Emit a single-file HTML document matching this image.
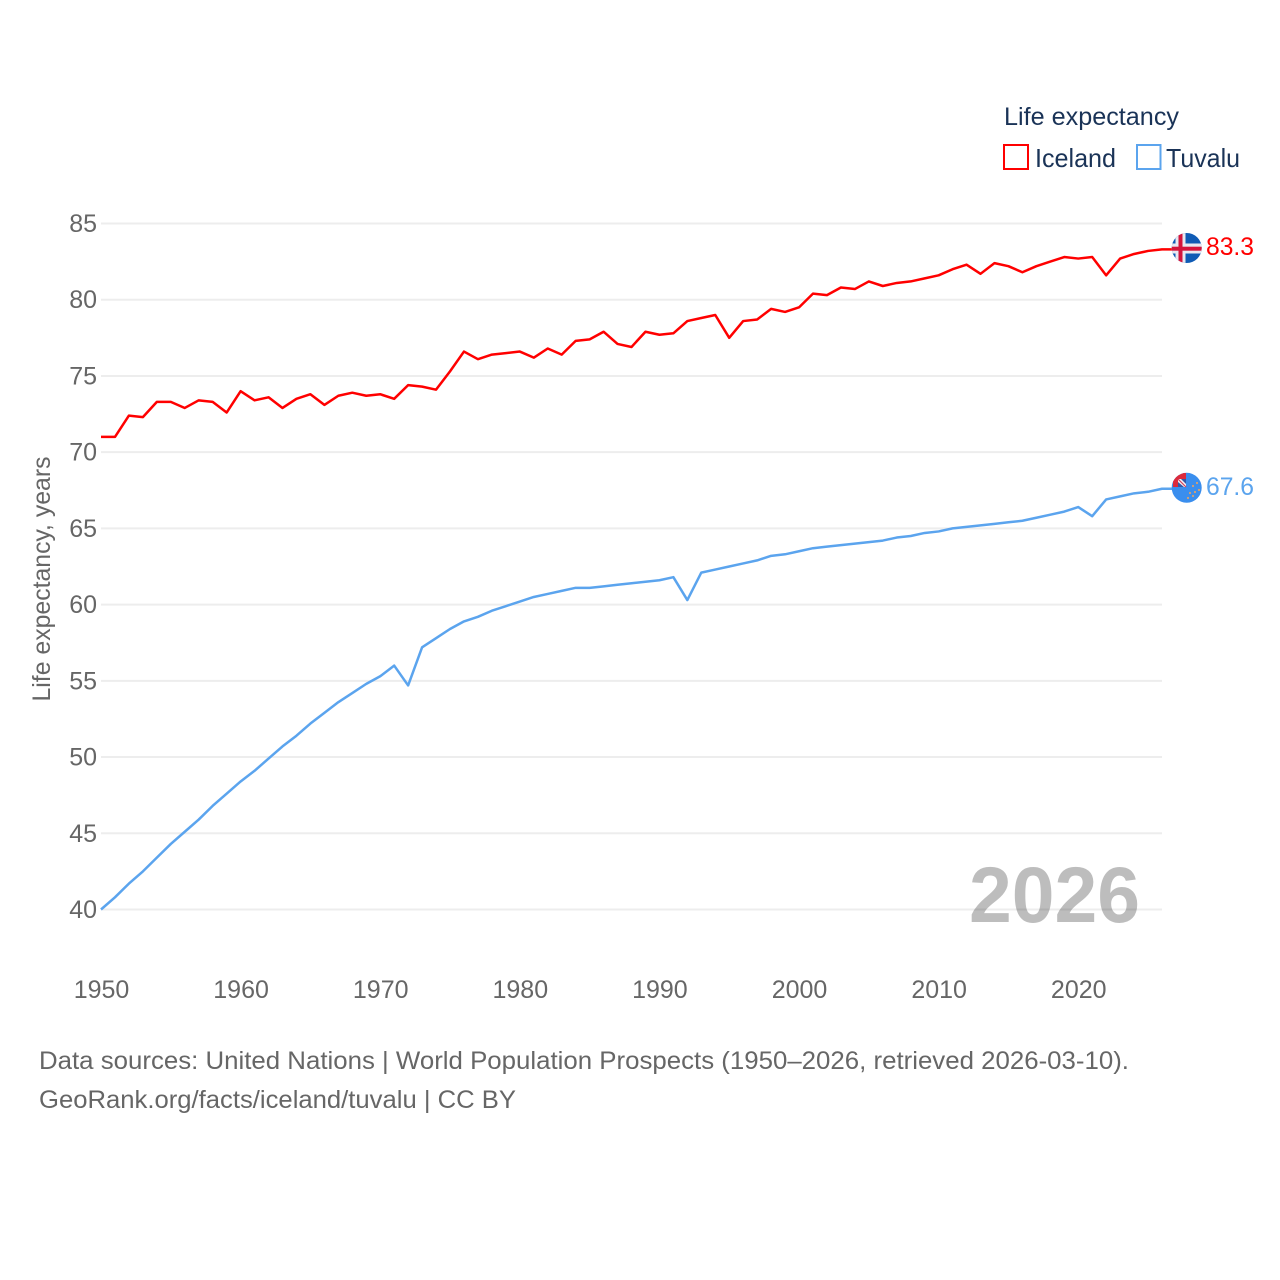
<!DOCTYPE html>
<html>
<head>
<meta charset="utf-8">
<title>Life expectancy: Iceland and Tuvalu</title>
<style>
  html, body { margin: 0; padding: 0; background: #fff; }
  body { width: 1280px; height: 1280px; overflow: hidden; }
  svg { display: block; font-family: "Liberation Sans", sans-serif; }
</style>
</head>
<body>
<svg id="chart" xmlns="http://www.w3.org/2000/svg" width="1280" height="1280" viewBox="0 0 1280 1280">
  <defs>
    <clipPath id="clip-iceland"><circle cx="1186.7" cy="248" r="15"></circle></clipPath>
    <clipPath id="clip-tuvalu"><circle cx="1186.7" cy="487.8" r="15"></circle></clipPath>
  </defs>
  <rect x="0" y="0" width="1280" height="1280" fill="#ffffff"></rect>
  <g id="grid"></g>
  <g id="y-axis"></g>
  <g id="x-axis"></g>
  <text transform="translate(50,579) rotate(-90)" text-anchor="middle" font-size="25" fill="#666666" textLength="245" lengthAdjust="spacingAndGlyphs">Life expectancy, years</text>
  <text x="969" y="922" font-size="79" font-weight="700" fill="#000000" fill-opacity="0.26" textLength="171" lengthAdjust="spacingAndGlyphs">2026</text>
  <g id="series"></g>

  <g clip-path="url(#clip-iceland)">
    <rect x="1171" y="233" width="31" height="30" fill="#0f5bb5"></rect>
    <rect x="1171" y="243.5" width="31" height="10" fill="#e8e8f0"></rect>
    <rect x="1175.5" y="233" width="10" height="30" fill="#e8e8f0"></rect>
    <rect x="1171" y="246.7" width="31" height="4" fill="#d4143c"></rect>
    <rect x="1178.5" y="233" width="4" height="30" fill="#d4143c"></rect>
  </g>
  <g clip-path="url(#clip-tuvalu)">
    <rect x="1171" y="472" width="31" height="31" fill="#3a8eee"></rect>
    <rect x="1173" y="473" width="13" height="14" fill="#dc2a3c"></rect>
    <rect x="1178" y="479" width="8" height="8" fill="#f2f2f6"></rect>
    <polygon points="1178,482 1178,487 1184,487" fill="#3358a8"></polygon>
    <polygon points="1181,479 1186,479 1186,484" fill="#3358a8"></polygon>
    <line x1="1178" y1="479" x2="1186" y2="487" stroke="#d4405a" stroke-width="1.2"></line>
    <g fill="#d8a070">
      <circle cx="1197" cy="483" r="1.1"></circle>
      <circle cx="1193" cy="486" r="1.1"></circle>
      <circle cx="1199" cy="490" r="1.1"></circle>
      <circle cx="1195" cy="492" r="1.1"></circle>
      <circle cx="1190" cy="493" r="1.1"></circle>
      <circle cx="1193" cy="496" r="1.1"></circle>
      <circle cx="1188" cy="498" r="1.1"></circle>
    </g>
  </g>

  <text x="1206" y="255" font-size="25" fill="#ff0000" textLength="48" lengthAdjust="spacingAndGlyphs">83.3</text>
  <text x="1206" y="495" font-size="25" fill="#5ba4ee" textLength="48" lengthAdjust="spacingAndGlyphs">67.6</text>

  <g>
    <text x="1004" y="125" font-size="25" fill="#1a3357" textLength="175" lengthAdjust="spacingAndGlyphs">Life expectancy</text>
    <g>
      <rect x="1004" y="145" width="24" height="24" fill="#ffffff" stroke="#ff0000" stroke-width="2"></rect>
      <text x="1035" y="167" font-size="26" fill="#1a3357" textLength="81" lengthAdjust="spacingAndGlyphs">Iceland</text>
    </g>
    <g>
      <rect x="1137" y="145" width="23.5" height="24" fill="#ffffff" stroke="#5ba4ee" stroke-width="2"></rect>
      <text x="1166" y="167" font-size="26" fill="#1a3357" textLength="74" lengthAdjust="spacingAndGlyphs">Tuvalu</text>
    </g>
  </g>

  <text x="39" y="1069" font-size="25" fill="#666666" textLength="1090" lengthAdjust="spacingAndGlyphs">Data sources: United Nations | World Population Prospects (1950–2026, retrieved 2026-03-10).</text>
  <a><text x="39" y="1108" font-size="25" fill="#666666" textLength="477" lengthAdjust="spacingAndGlyphs">GeoRank.org/facts/iceland/tuvalu | CC BY</text></a>
</svg>
<script>
const yTicks = [40, 45, 50, 55, 60, 65, 70, 75, 80, 85];
const xTicks = [1950, 1960, 1970, 1980, 1990, 2000, 2010, 2020];
const years = [1950,1951,1952,1953,1954,1955,1956,1957,1958,1959,1960,1961,1962,1963,1964,1965,1966,1967,1968,1969,1970,1971,1972,1973,1974,1975,1976,1977,1978,1979,1980,1981,1982,1983,1984,1985,1986,1987,1988,1989,1990,1991,1992,1993,1994,1995,1996,1997,1998,1999,2000,2001,2002,2003,2004,2005,2006,2007,2008,2009,2010,2011,2012,2013,2014,2015,2016,2017,2018,2019,2020,2021,2022,2023,2024,2025,2026];
const iceland = [71.0,71.0,72.4,72.3,73.3,73.3,72.9,73.4,73.3,72.6,74.0,73.4,73.6,72.9,73.5,73.8,73.1,73.7,73.9,73.7,73.8,73.5,74.4,74.3,74.1,75.3,76.6,76.1,76.4,76.5,76.6,76.2,76.8,76.4,77.3,77.4,77.9,77.1,76.9,77.9,77.7,77.8,78.6,78.8,79.0,77.5,78.6,78.7,79.4,79.2,79.5,80.4,80.3,80.8,80.7,81.2,80.9,81.1,81.2,81.4,81.6,82.0,82.3,81.7,82.4,82.2,81.8,82.2,82.5,82.8,82.7,82.8,81.6,82.7,83.0,83.2,83.3];
const tuvalu = [40.0,40.8,41.7,42.5,43.4,44.3,45.1,45.9,46.8,47.6,48.4,49.1,49.9,50.7,51.4,52.2,52.9,53.6,54.2,54.8,55.3,56.0,54.7,57.2,57.8,58.4,58.9,59.2,59.6,59.9,60.2,60.5,60.7,60.9,61.1,61.1,61.2,61.3,61.4,61.5,61.6,61.8,60.3,62.1,62.3,62.5,62.7,62.9,63.2,63.3,63.5,63.7,63.8,63.9,64.0,64.1,64.2,64.4,64.5,64.7,64.8,65.0,65.1,65.2,65.3,65.4,65.5,65.7,65.9,66.1,66.4,65.8,66.9,67.1,67.3,67.4,67.6];

const SVG_NS = 'http://www.w3.org/2000/svg';
const X0 = 101, X1 = 1162, Y40 = 909.5, Y85 = 223.5;
function xScale(year) { return X0 + (year - 1950) * (X1 - X0) / (2026 - 1950); }
function yScale(value) { return Y40 - (value - 40) * (Y40 - Y85) / (85 - 40); }
function make(tag, parentId) {
  const el = document.createElementNS(SVG_NS, tag);
  document.getElementById(parentId).appendChild(el);
  return el;
}

yTicks.forEach(function (t) {
  const line = make('line', 'grid');
  
  
  line.setAttribute('x1', X0);
  line.setAttribute('x2', X1);
  line.setAttribute('y1', yScale(t));
  line.setAttribute('y2', yScale(t));
  line.setAttribute('stroke', '#ededed');
  line.setAttribute('stroke-width', '2');

  const label = make('text', 'y-axis');
  
  
  label.setAttribute('x', 97);
  label.setAttribute('y', yScale(t) + 8.5);
  label.setAttribute('text-anchor', 'end');
  label.setAttribute('font-size', '25');
  label.setAttribute('fill', '#666666');
  label.textContent = t;
});

xTicks.forEach(function (t) {
  const label = make('text', 'x-axis');
  
  
  label.setAttribute('x', xScale(t) + 0.5);
  label.setAttribute('y', 998);
  label.setAttribute('text-anchor', 'middle');
  label.setAttribute('font-size', '25');
  label.setAttribute('fill', '#666666');
  label.textContent = t;
});

function drawSeries(values, color) {
  const path = make('path', 'series');
  const d = values.map(function (v, i) {
    return (i ? 'L' : 'M') + xScale(years[i]).toFixed(2) + ' ' + yScale(v).toFixed(2);
  }).join(' ');
  const last = values[values.length - 1];
  path.setAttribute('d', d + ' L1172 ' + yScale(last).toFixed(2));
  path.setAttribute('fill', 'none');
  path.setAttribute('stroke', color);
  path.setAttribute('stroke-width', '2.5');
  path.setAttribute('stroke-linejoin', 'round');
  return path;
}
const icelandLine = drawSeries(iceland, '#ff0000');


const tuvaluLine = drawSeries(tuvalu, '#5ba4ee');


</script>
</body>
</html>
